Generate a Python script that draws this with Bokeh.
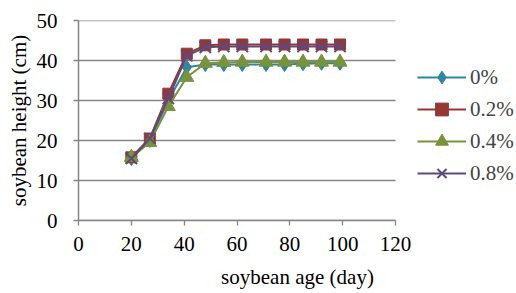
from bokeh.plotting import figure
from bokeh.models import Range1d, FixedTicker, Legend, LegendItem
from bokeh.embed import file_html
from bokeh.resources import INLINE

days = [20, 27, 34, 41, 48, 55, 62, 71, 78, 85, 92, 99]
h_0 = [15.5, 20.0, 30.0, 38.3, 39.0, 39.0, 39.0, 39.0, 39.0, 39.2, 39.3, 39.3]
h_02 = [15.8, 20.5, 31.7, 41.7, 43.8, 44.0, 44.0, 44.0, 44.0, 44.0, 44.0, 44.0]
h_04 = [15.8, 19.5, 28.5, 35.8, 39.3, 39.5, 39.6, 39.6, 39.6, 39.6, 39.6, 39.6]
h_08 = [15.5, 20.5, 30.5, 41.2, 43.3, 43.5, 43.5, 43.5, 43.5, 43.5, 43.5, 43.5]
labels = ["0%", "0.2%", "0.4%", "0.8%"]
x_ticks = [0, 20, 40, 60, 80, 100, 120]
y_ticks = [0, 10, 20, 30, 40, 50]

colors = ["#31859C", "#953735", "#77933C", "#5F497A"]
markers = ["diamond", "square", "triangle", "x"]
msizes = [14, 11, 14, 16]
series = [h_0, h_02, h_04, h_08]

FONT = "Liberation Serif"
FS = "21px"
AX = "#868686"

W, H = 516, 293
LEFT, TOP, BOTTOM = 78, 20, 73
AXIS_PX = 317  # pixel length of 0..120
frame_w = W - LEFT
x_end = x_ticks[-1] * frame_w / AXIS_PX

p = figure(width=W, height=H, output_backend="svg", toolbar_location=None,
           x_range=Range1d(0, x_end), y_range=Range1d(0, y_ticks[-1]),
           min_border_left=LEFT, min_border_right=0, min_border_top=TOP, min_border_bottom=BOTTOM)
p.outline_line_color = None
p.background_fill_color = "white"

p.xgrid.grid_line_color = None
p.ygrid.grid_line_color = None
# horizontal grid lines only across 0..120
p.segment(x0=[x_ticks[0]] * len(y_ticks), x1=[x_ticks[-1]] * len(y_ticks),
          y0=y_ticks, y1=y_ticks, line_color=AX, line_width=1.3)

p.xaxis.ticker = FixedTicker(ticks=x_ticks)
p.yaxis.ticker = FixedTicker(ticks=y_ticks)
p.xaxis.bounds = (x_ticks[0], x_ticks[-1])
for ax in (p.xaxis, p.yaxis):
    ax.axis_line_color = AX
    ax.axis_line_width = 1.5
    ax.major_tick_line_color = AX
    ax.major_tick_line_width = 1.3
    ax.major_tick_out = 5
    ax.major_tick_in = 0
    ax.minor_tick_line_color = None
    ax.major_label_text_font = FONT
    ax.major_label_text_font_size = FS
    ax.major_label_text_color = "black"
    ax.axis_label_text_font = FONT
    ax.axis_label_text_font_size = FS
    ax.axis_label_text_font_style = "normal"
    ax.axis_label_text_color = "black"

p.xaxis.axis_label = "soybean age (day)"
p.yaxis.axis_label = "soybean height (cm)"
p.xaxis.major_label_standoff = 11
p.xaxis.axis_label_standoff = 11
p.yaxis.major_label_standoff = 16
p.yaxis.axis_label_standoff = 3

items = []
for lab, ys, c, m, s in zip(labels, series, colors, markers, msizes):
    r1 = p.line(days, ys, line_color=c, line_width=2)
    if m == "x":
        r2 = p.scatter(days, ys, marker=m, size=s, line_color=c, line_width=2)
    else:
        r2 = p.scatter(days, ys, marker=m, size=s, fill_color=c, line_color=c)
    items.append(LegendItem(label=lab, renderers=[r1, r2]))

legend = Legend(items=items, location=(339, 31), padding=0, margin=0,
                glyph_width=49, glyph_height=32, spacing=0, label_standoff=4,
                label_text_font=FONT, label_text_font_size=FS,
                background_fill_alpha=0, border_line_color=None)
p.add_layout(legend, "center")

open("out.html", "w").write(file_html(p, INLINE))
